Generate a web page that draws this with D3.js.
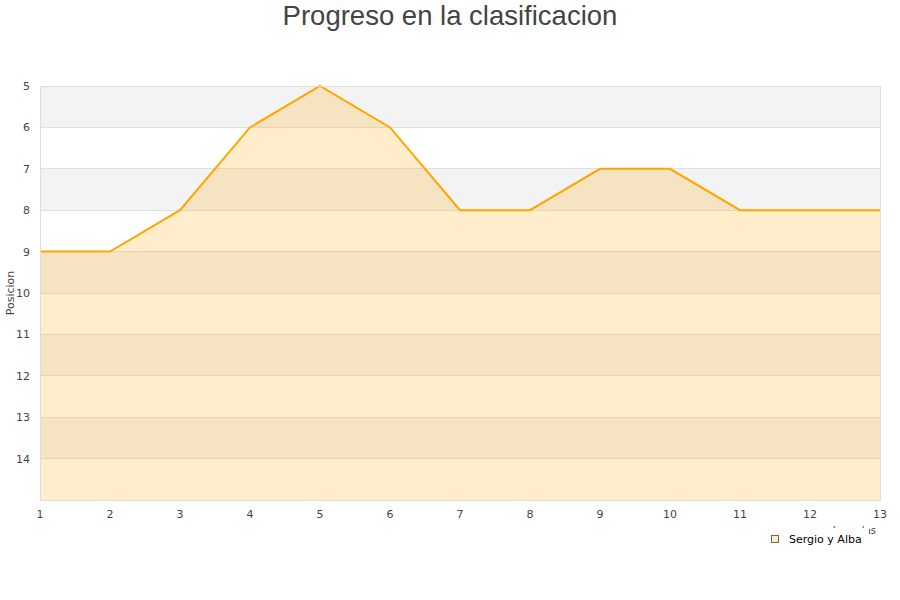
<!DOCTYPE html>
<html><head><meta charset="utf-8">
<script src="https://cdn.jsdelivr.net/npm/d3@7"></script>
<style>body{margin:0;background:#fff}svg{display:block}</style>
</head><body>
<svg id="c" width="900" height="600"></svg>
<script>
const jornadas = [1,2,3,4,5,6,7,8,9,10,11,12,13];
const posiciones = [9,9,8,6,5,6,8,8,7,7,8,8,8];
const yTicks = [5,6,7,8,9,10,11,12,13,14];
const seriesName = "Sergio y Alba";
const title = "Progreso en la clasificacion";
const yLabel = "Posicion";
const xLabel = "Jornadas";

const svg = d3.select("#c");
const m = {l:40, r:880, t:86, b:500};
const x = d3.scaleLinear().domain([1,13]).range([m.l, m.r]);
const y = d3.scaleLinear().domain([5,15]).range([m.t, m.b]);

// bands
const bands = d3.range(5,15);
svg.selectAll("rect.band").data(bands).join("rect")
  .attr("x", m.l).attr("width", m.r-m.l)
  .attr("y", d=>y(d)).attr("height", d=>y(d+1)-y(d))
  .attr("fill", d=> (d%2===1) ? "#f3f3f3" : "#ffffff");

// grid
svg.selectAll("line.grid").data(yTicks).join("line")
  .attr("x1", m.l).attr("x2", m.r)
  .attr("y1", d=>y(d)).attr("y2", d=>y(d))
  .attr("stroke", "#e0e0e0").attr("stroke-width",1).attr("shape-rendering","crispEdges");

const pts = jornadas.map((j,i)=>[j,posiciones[i]]);
const area = d3.area().x(d=>x(d[0])).y0(y(15)).y1(d=>y(d[1]));
svg.append("path").attr("d", area(pts)).attr("fill","rgba(255,165,0,0.2)");
const line = d3.line().x(d=>x(d[0])).y(d=>y(d[1]));
svg.append("path").attr("d", line(pts)).attr("fill","none").attr("stroke","#ffa500").attr("stroke-width",2);

// border
svg.append("rect").attr("x", m.l+0.5).attr("y", m.t+0.5).attr("width", m.r-m.l).attr("height", m.b-m.t)
  .attr("fill","none").attr("stroke","#dddddd");

// y axis labels
svg.selectAll("text.yt").data(yTicks).join("text")
  .attr("x", 30).attr("y", d=>y(d)+4).attr("text-anchor","end")
  .attr("font-family","DejaVu Sans").attr("font-size",11).attr("fill","#444")
  .text(d=>d);
// x axis labels
svg.selectAll("text.xt").data(jornadas).join("text")
  .attr("x", d=>x(d)).attr("y", 518).attr("text-anchor","middle")
  .attr("font-family","DejaVu Sans").attr("font-size",11).attr("fill","#444")
  .text(d=>d);

svg.append("text").attr("transform","translate(14,293) rotate(-90)").attr("text-anchor","middle")
  .attr("font-family","DejaVu Sans").attr("font-size",11).attr("fill","#444").text(yLabel);

svg.append("text").attr("x",876).attr("y",534).attr("text-anchor","end")
  .attr("font-family","DejaVu Sans").attr("font-size",10).attr("fill","#444").text(xLabel);

svg.append("text").attr("x",450).attr("y",25).attr("text-anchor","middle")
  .attr("font-family","Liberation Sans, Arial, sans-serif").attr("font-size",27.5).attr("fill","#444").text(title);

// legend
const lg = svg.append("g");
lg.append("rect").attr("x",762).attr("y",528).attr("width",107).attr("height",24).attr("fill","#fff");
lg.append("rect").attr("x",771.5).attr("y",535.5).attr("width",7).attr("height",7)
  .attr("fill","#feecca").attr("stroke","#666");
lg.append("text").attr("x",789).attr("y",543).attr("font-family","DejaVu Sans").attr("font-size",11)
  .attr("fill","#000").text(seriesName);
</script>
</body></html>
